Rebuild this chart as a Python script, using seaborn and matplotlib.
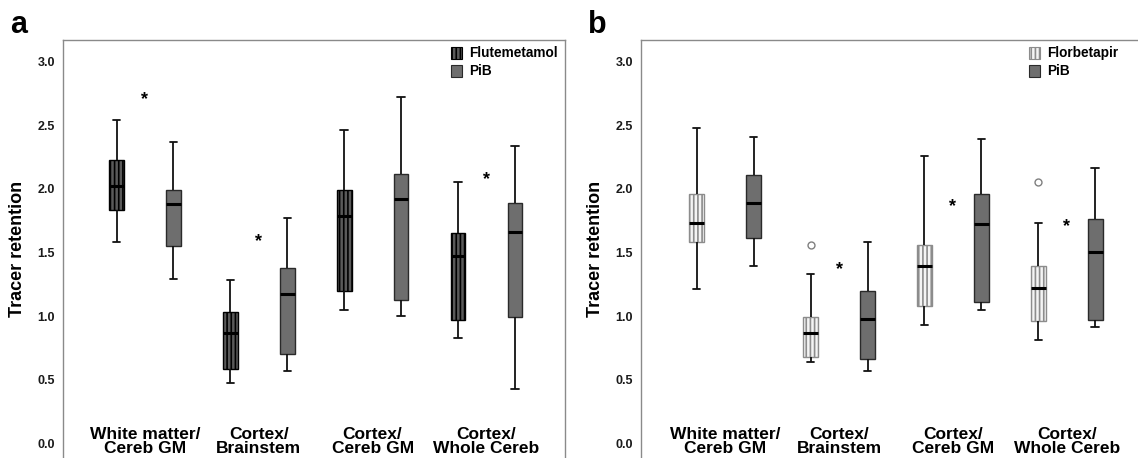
import numpy as np
import pandas as pd
import matplotlib
matplotlib.use("Agg")
import matplotlib.pyplot as plt
from matplotlib.patches import Patch
import seaborn as sns

# categories (shared by both panels)
regions = ["White matter/\nCereb GM", "Cortex/\nBrainstem",
           "Cortex/\nCereb GM", "Cortex/\nWhole Cereb"]

# panel a: Flutemetamol vs PiB (box stats)
flute_lo = [1.58, 0.47, 1.05, 0.83]
flute_q1 = [1.83, 0.58, 1.20, 0.97]
flute_med = [2.02, 0.87, 1.79, 1.47]
flute_q3 = [2.23, 1.03, 1.99, 1.65]
flute_hi = [2.54, 1.28, 2.46, 2.05]

pib_a_lo = [1.29, 0.57, 1.00, 0.43]
pib_a_q1 = [1.55, 0.70, 1.13, 0.99]
pib_a_med = [1.88, 1.17, 1.92, 1.66]
pib_a_q3 = [1.99, 1.38, 2.12, 1.89]
pib_a_hi = [2.37, 1.77, 2.72, 2.34]

stars_a_idx = [0, 1, 3]
stars_a_y = [2.74, 1.63, 2.11]

# panel b: Florbetapir vs PiB
flor_lo = [1.21, 0.64, 0.93, 0.81]
flor_q1 = [1.58, 0.68, 1.08, 0.96]
flor_med = [1.73, 0.87, 1.39, 1.22]
flor_q3 = [1.96, 0.99, 1.56, 1.39]
flor_hi = [2.48, 1.33, 2.26, 1.73]
flor_out = [None, 1.56, None, 2.05]

pib_b_lo = [1.39, 0.57, 1.05, 0.91]
pib_b_q1 = [1.61, 0.66, 1.11, 0.97]
pib_b_med = [1.89, 0.98, 1.72, 1.50]
pib_b_q3 = [2.11, 1.20, 1.96, 1.76]
pib_b_hi = [2.41, 1.58, 2.39, 2.16]

stars_b_idx = [1, 2, 3]
stars_b_y = [1.41, 1.90, 1.745]

yticks = [0.0, 0.5, 1.0, 1.5, 2.0, 2.5, 3.0]


def box_table(tracer, lo, q1, med, q3, hi, out=None):
    # points that reproduce the read quartiles / whiskers exactly
    rows = []
    for i, reg in enumerate(regions):
        vals = [lo[i], q1[i], q1[i], med[i], med[i], q3[i], q3[i], hi[i]]
        if out is not None and out[i] is not None:
            vals.append(out[i])
        rows += [(reg, tracer, v) for v in vals]
    return pd.DataFrame(rows, columns=["region", "tracer", "value"])


def draw_panel(ax, df, tracers, styles, star_idx, star_y, xlim):
    palette = {t: styles[t][0] for t in tracers}
    sns.boxplot(data=df, x="region", y="value", hue="tracer",
                order=regions, hue_order=tracers, palette=palette,
                saturation=1, width=1.0, gap=0.74, whis=1.5,
                linecolor="#111111", linewidth=1.3, legend=False, ax=ax,
                medianprops={"color": "black", "linewidth": 2.2},
                flierprops={"marker": "o", "markersize": 5,
                            "markerfacecolor": "white",
                            "markeredgecolor": "#808080"})

    # hatching / edge per tracer, found from where each box sits
    for p in ax.patches:
        xs = p.get_path().vertices[:, 0]
        xc = (xs.min() + xs.max()) / 2
        t = tracers[0] if xc < round(xc) else tracers[1]
        fc, ec, h = styles[t]
        p.set_hatch(h)
        p.set_edgecolor(ec)
        p.set_linewidth(1.0)

    for i, y in zip(star_idx, star_y):
        ax.annotate("*", (i, y), xytext=(0, -7), textcoords="offset points",
                    ha="center", va="baseline", fontsize=13, fontweight="bold")

    for i, reg in enumerate(regions):
        ax.text(i, 0.015, reg, ha="center", va="center", fontsize=12.5,
                fontweight="bold", linespacing=0.95)

    handles = [Patch(facecolor=styles[t][0], edgecolor=styles[t][1],
                     hatch=styles[t][2], linewidth=0.8, label=t) for t in tracers]
    ax.legend(handles=handles, loc="upper left", bbox_to_anchor=(0.772, 0.985),
              frameon=False, borderaxespad=0, borderpad=0, handlelength=0.85,
              handleheight=1.0, handletextpad=0.5, labelspacing=0.3,
              prop={"weight": "bold", "size": 9.8})

    ax.set_xlim(*xlim)
    ax.set_ylim(-0.116, 3.17)
    ax.set_xticks([])
    ax.set_xlabel("")
    ax.set_yticks(yticks)
    ax.set_yticklabels([f"{v:.1f}" for v in yticks], fontweight="bold")
    ax.set_ylabel("Tracer retention", fontsize=13, fontweight="bold", labelpad=8)
    ax.tick_params(axis="y", length=4.5, width=0.8, color="#555555",
                   labelsize=9, labelcolor="#1a1a1a", pad=1.2)
    ax.spines["bottom"].set_visible(False)
    for s in ["left", "top", "right"]:
        ax.spines[s].set_color("#8a8a8a")
        ax.spines[s].set_linewidth(1.0)


sns.set_style("white")
plt.rcParams["font.family"] = ["Liberation Sans", "DejaVu Sans"]
plt.rcParams["text.color"] = "black"
plt.rcParams["axes.labelcolor"] = "black"
plt.rcParams["hatch.linewidth"] = 1.2

fig = plt.figure(figsize=(11.38, 4.58), dpi=100)
W, H = 1138, 458
ax_a = fig.add_axes([63 / W, 0, 502 / W, 418 / H])
ax_b = fig.add_axes([641 / W, 0, 502 / W, 418 / H])

df_a = pd.concat([box_table("Flutemetamol", flute_lo, flute_q1, flute_med, flute_q3, flute_hi),
                  box_table("PiB", pib_a_lo, pib_a_q1, pib_a_med, pib_a_q3, pib_a_hi)])
df_b = pd.concat([box_table("Florbetapir", flor_lo, flor_q1, flor_med, flor_q3, flor_hi, flor_out),
                  box_table("PiB", pib_b_lo, pib_b_q1, pib_b_med, pib_b_q3, pib_b_hi)])

styles_a = {"Flutemetamol": ("#5a5a5a", "black", "||||"),
            "PiB": ("#6e6e6e", "#2a2a2a", None)}
styles_b = {"Florbetapir": ("#f4f4f4", "#8c8c8c", "||||"),
            "PiB": ("#6e6e6e", "#2a2a2a", None)}

draw_panel(ax_a, df_a, ["Flutemetamol", "PiB"], styles_a, stars_a_idx, stars_a_y, (-0.72, 3.69))
draw_panel(ax_b, df_b, ["Florbetapir", "PiB"], styles_b, stars_b_idx, stars_b_y, (-0.74, 3.67))

fig.text(10 / W, 1 - 33 / H, "a", fontsize=22, fontweight="bold", va="baseline")
fig.text(588 / W, 1 - 33 / H, "b", fontsize=22, fontweight="bold", va="baseline")

fig.savefig("out.png", dpi=100)
